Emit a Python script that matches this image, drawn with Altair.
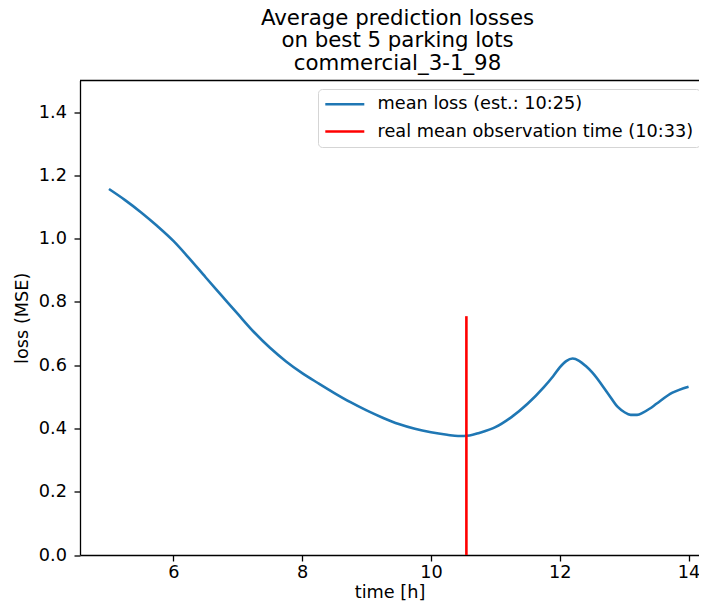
import altair as alt
import pandas as pd

# ---- data ----
hours = [5.0, 5.25, 5.5, 5.75, 6.0, 6.25, 6.5, 6.75, 7.0, 7.25, 7.5, 7.75,
         8.0, 8.25, 8.5, 8.75, 9.0, 9.25, 9.5, 9.75, 10.0, 10.25, 10.42,
         10.6, 10.75, 11.0, 11.25, 11.5, 11.75, 11.9, 12.0, 12.1, 12.2, 12.3,
         12.4, 12.5, 12.75, 12.9, 13.0, 13.1, 13.2, 13.3, 13.4, 13.5, 13.75, 14.0]
loss = [1.157, 1.122, 1.083, 1.040, 0.993, 0.937, 0.878, 0.820, 0.762, 0.705,
        0.655, 0.612, 0.575, 0.543, 0.512, 0.483, 0.457, 0.434, 0.414, 0.399,
        0.388, 0.380, 0.376, 0.378, 0.386, 0.404, 0.436, 0.478, 0.530, 0.566,
        0.593, 0.613, 0.621, 0.614, 0.598, 0.578, 0.510, 0.468, 0.452, 0.443,
        0.443, 0.451, 0.463, 0.478, 0.513, 0.532]
obs_time = [10.55]          # 10:33
obs_top = [0.755]
series = ["mean loss (est.: 10:25)", "real mean observation time (10:33)"]
colors = ["#1f77b4", "#ff0000"]
x_ticks = [6, 8, 10, 12, 14]
y_ticks = [0.0, 0.2, 0.4, 0.6, 0.8, 1.0, 1.2, 1.4]
title_lines = ["Average prediction losses", "on best 5 parking lots", "commercial_3-1_98"]

curve_df = pd.DataFrame({"time": hours, "loss": loss, "series": series[0]})
obs_df = pd.DataFrame({"time": obs_time, "y0": [0.0], "loss": obs_top, "series": [series[1]]})
top_df = pd.DataFrame({"loss": [1.5]})

FONT = "DejaVu Sans"
FS = 17.7

x_enc = alt.X("time:Q",
              scale=alt.Scale(domain=[4.55, 14.162], nice=False, zero=False),
              axis=alt.Axis(values=x_ticks, title="time [h]", format="d",
                            labelBaseline="middle", labelPadding=11.5,
                            titleY=37, titleBaseline="middle"))
y_scale = alt.Scale(domain=[0, 1.5], nice=False, zero=True)
y_axis = alt.Axis(values=y_ticks, title="loss (MSE)", format=".1f",
                  labelPadding=7.5, titleX=-58, titleBaseline="middle")

color_enc = alt.Color(
    "series:N",
    scale=alt.Scale(domain=series, range=colors),
    legend=alt.Legend(title=None, orient="none", legendX=238, legendY=8.5,
                      symbolType="M-1.067,0L4.133,0", symbolSize=225,
                      symbolStrokeWidth=2.6,
                      labelFontSize=FS, labelFont=FONT, labelColor="black",
                      labelLimit=0, padding=6.3, rowPadding=9.25, labelOffset=35.3,
                      fillColor="white", strokeColor="#d5d5d5", cornerRadius=4),
)

line = alt.Chart(curve_df).mark_line(strokeWidth=2.6, interpolate="monotone").encode(
    x=x_enc,
    y=alt.Y("loss:Q", scale=y_scale, axis=y_axis),
    color=color_enc,
)

rule = alt.Chart(obs_df).mark_rule(strokeWidth=2.6).encode(
    x="time:Q",
    y="y0:Q",
    y2="loss:Q",
    color=color_enc,
)

top_border = alt.Chart(top_df).mark_rule(color="black", strokeWidth=1.3).encode(
    y=alt.Y("loss:Q", scale=y_scale)
)

chart = alt.layer(line, rule, top_border).properties(
    width=619,
    height=474.5,
    autosize=alt.AutoSizeParams(type="none"),
    padding={"left": 72, "top": 72.5, "right": 0, "bottom": 47},
    title=alt.TitleParams(text=title_lines, fontSize=21.3, font=FONT,
                          fontWeight="normal", color="black", anchor="middle",
                          lineHeight=22.5, offset=7, dx=8, dy=22, baseline="bottom"),
).configure(font=FONT).configure_view(stroke=None).configure_axis(
    grid=False, labelFont=FONT, titleFont=FONT, labelFontSize=FS,
    titleFontSize=FS, titleFontWeight="normal", labelColor="black",
    titleColor="black", domainColor="black", tickColor="black",
    domainWidth=1.3, tickWidth=1.3, tickSize=6,
)

chart.save("out.html", embed_options={"renderer": "svg", "actions": False})
